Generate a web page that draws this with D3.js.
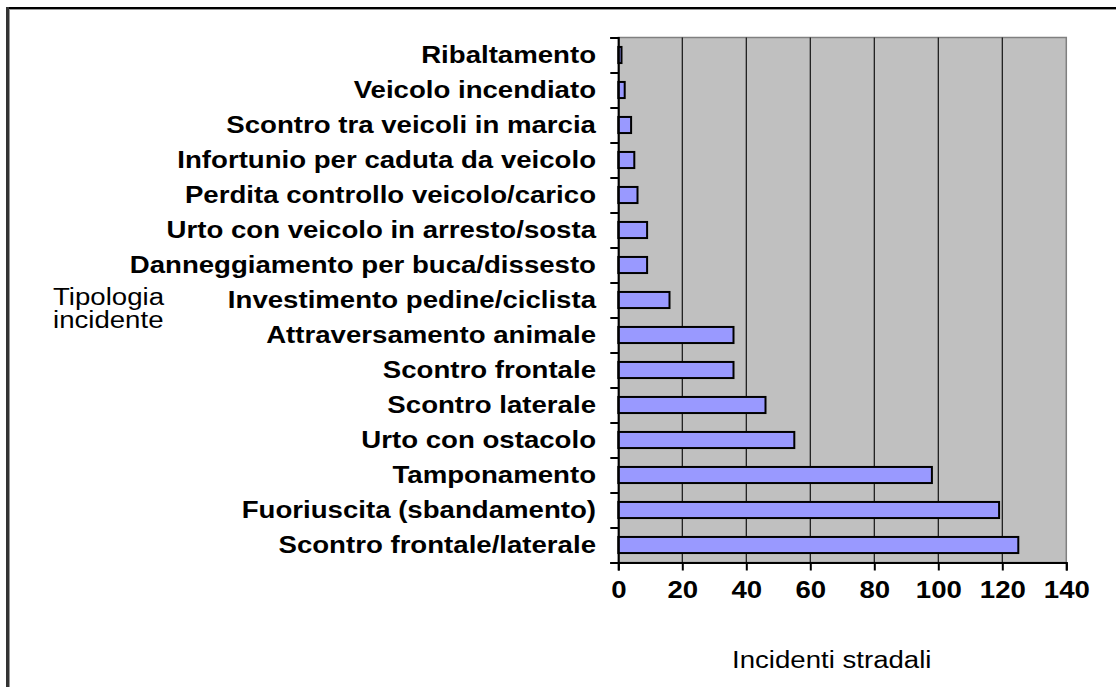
<!DOCTYPE html>
<html>
<head>
<meta charset="utf-8">
<script src="https://cdn.jsdelivr.net/npm/d3@7"></script>
<style>
  body { margin: 0; background: #fff; }
  svg { display: block; font-family: "Liberation Sans", Arial, sans-serif; }
</style>
</head>
<body>
<svg id="chart" width="1116" height="687"></svg>
<script>
// Categories, top to bottom as in the chart
const categories = [
  "Ribaltamento",
  "Veicolo incendiato",
  "Scontro tra veicoli in marcia",
  "Infortunio per caduta da veicolo",
  "Perdita controllo veicolo/carico",
  "Urto con veicolo in arresto/sosta",
  "Danneggiamento per buca/dissesto",
  "Investimento pedine/ciclista",
  "Attraversamento animale",
  "Scontro frontale",
  "Scontro laterale",
  "Urto con ostacolo",
  "Tamponamento",
  "Fuoriuscita (sbandamento)",
  "Scontro frontale/laterale"
];
const incidents = [1, 2, 4, 5, 6, 9, 9, 16, 36, 36, 46, 55, 98, 119, 125];
const xTicks = [0, 20, 40, 60, 80, 100, 120, 140];
const yTitle = ["Tipologia", "incidente"];
const xTitle = "Incidenti stradali";

const plot = {left: 618.3, right: 1066.3, top: 37.5, bottom: 562.5};
const fontSize = 23;
const stretchK = 1.2;  // text in the original is drawn wider than normal

const svg = d3.select('#chart');

// widen a text selection horizontally, keeping its anchor
function stretch(sel, k) {
  sel.each(function() {
    const len = this.getComputedTextLength();
    d3.select(this).attr('textLength', len * k).attr('lengthAdjust', 'spacingAndGlyphs');
  });
}

// outer frame (top and left edges only)
svg.append('line').attr('x1', 6).attr('x2', 1116).attr('y1', 8).attr('y2', 8)
  .attr('stroke', '#000').attr('stroke-width', 2);
svg.append('line').attr('x1', 8).attr('x2', 1116).attr('y1', 9.5).attr('y2', 9.5)
  .attr('stroke', '#999').attr('stroke-width', 1);
svg.append('line').attr('x1', 7.5).attr('x2', 7.5).attr('y1', 7).attr('y2', 687)
  .attr('stroke', '#333').attr('stroke-width', 3);
svg.append('line').attr('x1', 9.5).attr('x2', 9.5).attr('y1', 9).attr('y2', 687)
  .attr('stroke', '#999').attr('stroke-width', 1);

const x = d3.scaleLinear().domain([0, 140]).range([plot.left, plot.right]);
const y = d3.scaleBand().domain(categories)
  .range([plot.top, plot.bottom])
  .paddingInner(0.54).paddingOuter(0.27);
const yEdges = d3.scaleLinear().domain([0, categories.length]).range([plot.top, plot.bottom]);

// plot area
svg.append('rect')
  .attr('x', plot.left).attr('y', plot.top)
  .attr('width', plot.right - plot.left).attr('height', plot.bottom - plot.top)
  .attr('fill', '#c0c0c0').attr('stroke', '#808080').attr('stroke-width', 1.5);

// vertical gridlines
svg.append('g').selectAll('line')
  .data(xTicks.filter(d => d > 0 && d < 140))
  .enter().append('line')
  .attr('x1', d => x(d)).attr('x2', d => x(d))
  .attr('y1', plot.top).attr('y2', plot.bottom)
  .attr('stroke', '#111').attr('stroke-width', 1.2);

// bars
svg.append('g').selectAll('rect')
  .data(incidents)
  .enter().append('rect')
  .attr('x', x(0))
  .attr('y', (d, i) => y(categories[i]))
  .attr('width', d => x(d) - x(0))
  .attr('height', y.bandwidth())
  .attr('fill', '#9999ff')
  .attr('stroke', '#000').attr('stroke-width', 2);

// left axis with ticks at the band edges
const yAxis = svg.append('g')
  .attr('transform', `translate(${plot.left},0)`)
  .call(d3.axisLeft(yEdges).ticks(categories.length).tickSize(8).tickFormat(''));
yAxis.selectAll('path, line').attr('stroke', '#000').attr('stroke-width', 2);

// bottom axis
const xAxis = svg.append('g')
  .attr('transform', `translate(0,${plot.bottom})`)
  .call(d3.axisBottom(x).tickValues(xTicks).tickSize(8).tickFormat(d3.format('d')));
xAxis.selectAll('path, line').attr('stroke', '#000').attr('stroke-width', 2);
xAxis.selectAll('text')
  .attr('y', 35.5).attr('dy', 0)
  .attr('fill', '#000')
  .attr('font-size', fontSize).attr('font-weight', 'bold')
  .attr('font-family', '"Liberation Sans", Arial, sans-serif')
  .call(stretch, stretchK);

// category labels
svg.append('g').selectAll('text')
  .data(categories)
  .enter().append('text')
  .attr('x', 596)
  .attr('y', d => y(d) + y.bandwidth() / 2 + 8)
  .attr('text-anchor', 'end')
  .attr('font-size', fontSize).attr('font-weight', 'bold')
  .text(d => d)
  .call(stretch, stretchK);

// axis titles
svg.append('g').selectAll('text')
  .data(yTitle)
  .enter().append('text')
  .attr('x', 53)
  .attr('y', (d, i) => 305 + i * 23)
  .attr('font-size', fontSize)
  .text(d => d)
  .call(stretch, stretchK);

svg.append('text')
  .attr('x', 732).attr('y', 668)
  .attr('font-size', fontSize)
  .text(xTitle)
  .call(stretch, stretchK);
</script>
</body>
</html>
